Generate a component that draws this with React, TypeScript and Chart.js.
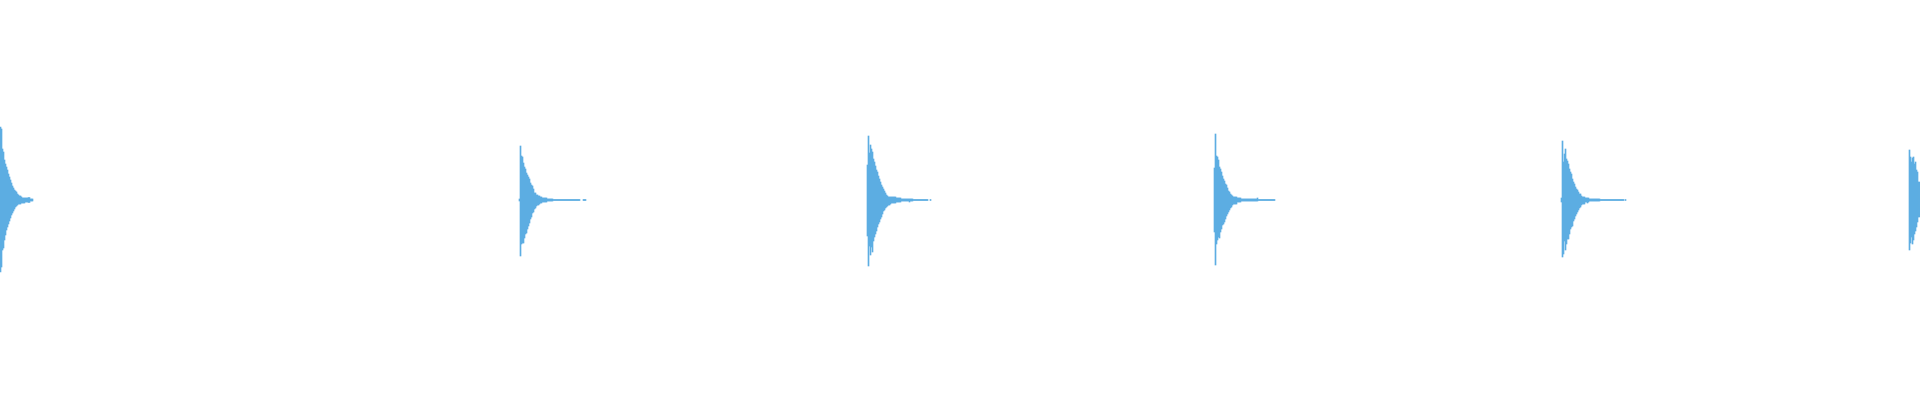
import { useEffect, useRef } from "react";
import { Chart, registerables } from "chart.js";

Chart.register(...registerables);

// waveform min/max per pixel column
const t = 0.0025; // the thin flat tail after each click

const burstStarts = [0, 519, 867, 1214, 1561, 1909];

const burst1Max = [0.365, 0.355, 0.255, 0.24, 0.2, 0.18, 0.165, 0.15, 0.13, 0.115, 0.1, 0.085, 0.07, 0.06, 0.05, 0.045, 0.04, 0.03, 0.025, 0.02, 0.02, 0.015, 0.01, 0.01, 0.01, 0.01, 0.01, 0.01, 0.012, 0.012, 0.005, 0.005, 0.005];
const burst1Min = [-0.36, -0.335, -0.25, -0.24, -0.2, -0.175, -0.15, -0.135, -0.12, -0.105, -0.09, -0.075, -0.065, -0.055, -0.045, -0.035, -0.03, -0.025, -0.02, -0.02, -0.02, -0.015, -0.015, -0.015, -0.015, -0.01, -0.01, -0.01, -0.012, -0.012, -0.005, -0.005, -0.005];

const burst2Max = [0.005, 0.27, 0.22, 0.215, 0.185, 0.165, 0.155, 0.135, 0.125, 0.115, 0.105, 0.085, 0.075, 0.07, 0.055, 0.035, 0.035, 0.025, 0.025, 0.02, 0.02, 0.015, 0.015, 0.01, 0.01, 0.01, 0.01, 0.01,
  0.005, 0.005, 0.005, 0.005, 0.005, 0.005,
  t, t, t, t, t, t, t, t, t, t, t, t, t, t, t, t, t, t, t, t, t, t, t, t, t, t, t,
  null, null, null, t, t, t];
const burst2Min = [-0.005, -0.28, -0.22, -0.215, -0.215, -0.19, -0.17, -0.165, -0.145, -0.13, -0.115, -0.095, -0.085, -0.065, -0.06, -0.045, -0.04, -0.03, -0.025, -0.025, -0.02, -0.015, -0.015, -0.01, -0.01, -0.01, -0.01, -0.01,
  -0.005, -0.005, -0.005, -0.005, -0.005, -0.005,
  -t, -t, -t, -t, -t, -t, -t, -t, -t, -t, -t, -t, -t, -t, -t, -t, -t, -t, -t, -t, -t, -t, -t, -t, -t, -t, -t,
  null, null, null, -t, -t, -t];

const burst3Max = [0.175, 0.32, 0.235, 0.275, 0.255, 0.24, 0.205, 0.19, 0.17, 0.15, 0.14, 0.12, 0.105, 0.09, 0.075, 0.065, 0.055, 0.045, 0.035, 0.025, 0.02, 0.015, 0.015, 0.015,
  0.015, 0.015, 0.015, 0.015, 0.015, 0.01, 0.01, 0.01, 0.01, 0.01,
  0.005, 0.005, 0.005, 0.005, 0.005, 0.005, 0.005, 0.005, 0.005, 0.005, 0.005, 0.005,
  t, t, t, t, t, t, t, t, t, t, t, t, t, t, t, null, null, t];
const burst3Min = [-0.18, -0.33, -0.23, -0.275, -0.235, -0.26, -0.205, -0.185, -0.17, -0.155, -0.135, -0.12, -0.11, -0.095, -0.085, -0.07, -0.055, -0.05, -0.04, -0.035, -0.03, -0.025, -0.025, -0.02,
  -0.015, -0.015, -0.015, -0.015, -0.015, -0.01, -0.01, -0.01, -0.01, -0.01,
  -0.005, -0.005, -0.005, -0.005, -0.005, -0.005, -0.005, -0.005, -0.01, -0.005, -0.005, -0.005,
  -t, -t, -t, -t, -t, -t, -t, -t, -t, -t, -t, -t, -t, -t, -t, null, null, -t];

const burst4Max = [0.16, 0.33, 0.22, 0.215, 0.2, 0.165, 0.155, 0.14, 0.12, 0.105, 0.095, 0.08, 0.075, 0.06, 0.045, 0.04, 0.03, 0.025, 0.02,
  0.015, 0.015, 0.015, 0.015, 0.01, 0.01, 0.01, 0.01,
  0.005, 0.005, 0.005, 0.005, 0.005, 0.005, 0.005, 0.005, 0.005, 0.005, 0.005, 0.005, 0.005, 0.005, 0.005, 0.005, 0.01,
  t, t, t, t, t, t, t, t, t, t, t, t, t, t, t, t, t];
const burst4Min = [-0.16, -0.325, -0.22, -0.2, -0.185, -0.19, -0.16, -0.145, -0.125, -0.12, -0.11, -0.095, -0.08, -0.07, -0.06, -0.05, -0.04, -0.035, -0.025,
  -0.02, -0.02, -0.02, -0.02, -0.01, -0.01, -0.01, -0.01,
  -0.005, -0.005, -0.005, -0.005, -0.005, -0.005, -0.005, -0.005, -0.005, -0.005, -0.005, -0.005, -0.005, -0.005, -0.005, -0.005, -0.005,
  -t, -t, -t, -t, -t, -t, -t, -t, -t, -t, -t, -t, -t, -t, -t, -t, -t];

const burst5Max = [0.01, 0.295, 0.19, 0.23, 0.255, 0.205, 0.195, 0.18, 0.155, 0.14, 0.13, 0.105, 0.09, 0.08, 0.065, 0.055, 0.05, 0.04, 0.03, 0.03, 0.02,
  0.015, 0.015, 0.015, 0.01, 0.01, 0.01, 0.01,
  0.005, 0.005, 0.005, 0.005, 0.005, 0.005, 0.005, 0.005, 0.005, 0.005, 0.005,
  t, t, t, t, t, t, t, t, t, t, t, t, t, t, t, t, t, t, t, t, t, t, t, t, null, t];
const burst5Min = [-0.01, -0.285, -0.27, -0.205, -0.25, -0.22, -0.195, -0.195, -0.17, -0.145, -0.135, -0.13, -0.105, -0.095, -0.08, -0.07, -0.06, -0.05, -0.04, -0.035, -0.025,
  -0.02, -0.02, -0.02, -0.01, -0.01, -0.015, -0.01,
  -0.005, -0.005, -0.005, -0.005, -0.005, -0.005, -0.005, -0.005, -0.005, -0.005, -0.005,
  -t, -t, -t, -t, -t, -t, -t, -t, -t, -t, -t, -t, -t, -t, -t, -t, -t, -t, -t, -t, -t, -t, -t, -t, null, -t];

const burst6Max = [0.25, 0.215, 0.19, 0.21, 0.215, 0.18, 0.19, 0.15, 0.14, 0.09, 0.09];
const burst6Min = [-0.25, -0.215, -0.185, -0.22, -0.2, -0.17, -0.155, -0.135, -0.11, -0.085, -0.085];

const burstMax = [burst1Max, burst2Max, burst3Max, burst4Max, burst5Max, burst6Max];
const burstMin = [burst1Min, burst2Min, burst3Min, burst4Min, burst5Min, burst6Min];

export default function App() {
  const canvasRef = useRef<HTMLCanvasElement | null>(null);

  useEffect(() => {
    if (!canvasRef.current) return;

    // one floating bar [min, max] per column
    const points: { x: number; y: [number, number] }[] = [];
    burstStarts.forEach((start, b) => {
      burstMax[b].forEach((hi, i) => {
        const lo = burstMin[b][i];
        if (hi === null || lo === null) return;
        points.push({ x: start + i, y: [lo, hi] });
      });
    });

    const chart = new Chart(canvasRef.current, {
      type: "bar",
      data: {
        datasets: [
          {
            data: points as any,
            backgroundColor: "#5DADE2",
            borderWidth: 0,
            barPercentage: 1,
            categoryPercentage: 1,
          },
        ],
      },
      options: {
        animation: false,
        responsive: true,
        maintainAspectRatio: false,
        layout: { padding: 0 },
        plugins: {
          legend: { display: false },
          tooltip: { enabled: false },
        },
        scales: {
          x: { type: "linear", min: -0.5, max: 1919.5, display: false, offset: false },
          y: { min: -1, max: 1, display: false },
        },
      },
    });

    return () => {
      chart.destroy();
    };
  }, []);

  return (
    <div style={{ position: "fixed", left: 0, top: 0, width: "1920px", height: "400px" }}>
      <canvas ref={canvasRef}></canvas>
    </div>
  );
}
